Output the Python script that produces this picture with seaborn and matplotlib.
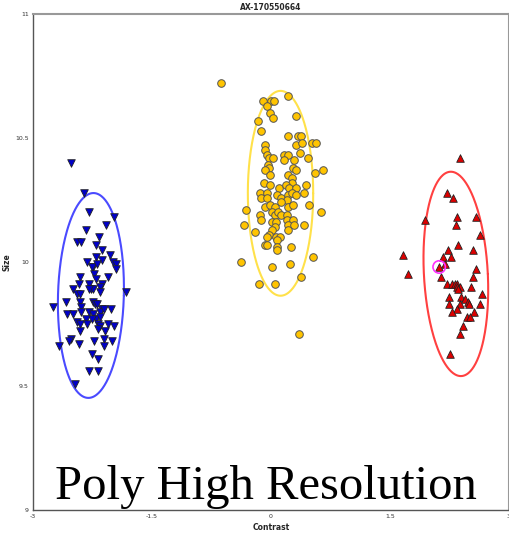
import numpy as np
import pandas as pd
import matplotlib
matplotlib.use("Agg")
import matplotlib.pyplot as plt
import seaborn as sns


# blue cluster (down triangles)
blue_x = [-2.52, -2.36, -2.29, -1.98, -2.33, -2.08, -2.44, -2.40, -2.17, -2.21,
          -2.13, -2.03, -2.20, -2.32, -2.24, -2.26, -2.13, -1.99, -1.95, -1.96,
          -2.19, -2.23, -2.41, -2.05, -2.20, -2.13, -2.16, -2.42, -2.49, -2.45,
          -2.41, -2.29, -2.27, -2.24, -2.30, -2.16, -1.83, -2.58, -2.41, -2.40,
          -2.24, -2.22, -2.19, -2.75, -2.39, -2.29, -2.13, -2.16, -2.11, -2.02,
          -2.57, -2.49, -2.24, -2.21, -2.26, -2.16, -2.45, -2.41, -2.33, -2.32,
          -2.18, -2.16, -2.06, -1.98, -2.41, -2.18, -2.09, -2.52, -2.55, -2.42,
          -2.23, -2.11, -2.00, -2.67, -2.26, -2.11, -2.18, -2.30, -2.18, -2.47]
blue_y = [10.40, 10.28, 10.20, 10.18, 10.13, 10.15, 10.08, 10.08, 10.10, 10.07,
          10.05, 10.03, 10.02, 10.00, 9.98, 9.98, 10.01, 10.00, 9.99, 9.97,
          9.99, 9.95, 9.94, 9.94, 9.93, 9.91, 9.90, 9.91, 9.89, 9.87,
          9.87, 9.91, 9.89, 9.89, 9.89, 9.88, 9.88, 9.84, 9.84, 9.82,
          9.84, 9.83, 9.83, 9.82, 9.80, 9.80, 9.81, 9.80, 9.81, 9.81,
          9.79, 9.79, 9.79, 9.77, 9.77, 9.78, 9.76, 9.75, 9.77, 9.75,
          9.75, 9.74, 9.75, 9.74, 9.72, 9.73, 9.72, 9.69, 9.68, 9.67,
          9.68, 9.69, 9.68, 9.66, 9.63, 9.66, 9.61, 9.56, 9.56, 9.51]

# yellow cluster (circles)
yellow_x = [-0.10, 0.00, 0.04, -0.05, 0.22, -0.01, -0.17, 0.03, 0.32, -0.13,
            0.22, 0.34, 0.38, 0.32, 0.39, 0.52, 0.57, -0.07, -0.08, -0.05,
            -0.03, 0.02, 0.17, 0.22, 0.16, 0.36, 0.47, 0.29, -0.04, -0.03,
            -0.08, 0.28, 0.32, -0.01, 0.56, 0.66, 0.22, 0.26, 0.27, -0.09,
            -0.01, 0.10, 0.19, 0.23, 0.32, 0.44, -0.14, -0.05, 0.07, 0.13,
            0.21, 0.26, 0.32, 0.42, -0.13, -0.05, 0.20,
            -0.31, -0.08, -0.01, 0.05, 0.13, 0.22, 0.28, 0.48, 0.63, -0.14,
            -0.12, 0.01, 0.05, 0.09, 0.13, 0.20, 0.01, 0.06, 0.05, 0.20,
            0.28, 0.22, 0.29, 0.21, -0.34, 0.41, -0.20, 0.01, -0.02, -0.05,
            0.06, 0.11, 0.07, -0.08, -0.05, 0.07, 0.08, 0.25, -0.38, 0.53,
            0.24, 0.01, 0.38, -0.15, 0.05, 0.35, -0.63]
yellow_y = [10.65, 10.65, 10.65, 10.63, 10.67, 10.60, 10.57, 10.58, 10.59, 10.53,
            10.51, 10.51, 10.51, 10.47, 10.48, 10.48, 10.48, 10.47, 10.45, 10.43,
            10.42, 10.42, 10.43, 10.43, 10.41, 10.44, 10.42, 10.41, 10.39, 10.38,
            10.37, 10.38, 10.37, 10.35, 10.36, 10.37, 10.35, 10.34, 10.32, 10.32,
            10.31, 10.30, 10.31, 10.30, 10.30, 10.31, 10.28, 10.28, 10.27, 10.26,
            10.27, 10.28, 10.27, 10.28, 10.26, 10.26, 10.25,
            10.21, 10.22, 10.23, 10.22, 10.24, 10.22, 10.23, 10.23, 10.20, 10.19,
            10.17, 10.20, 10.19, 10.20, 10.19, 10.19, 10.16, 10.16, 10.14, 10.17,
            10.17, 10.15, 10.15, 10.13, 10.15, 10.15, 10.12, 10.13, 10.11, 10.10,
            10.10, 10.10, 10.09, 10.07, 10.07, 10.06, 10.05, 10.06, 10.00, 10.02,
            9.99, 9.98, 9.94, 9.91, 9.91, 9.71, 10.72]

# red cluster (up triangles)
red_x = [2.38, 2.22, 2.30, 1.94, 2.35, 2.33, 2.59, 2.64, 1.66, 2.36,
         2.54, 2.23, 2.17, 2.27, 2.19, 2.12, 1.73, 2.14, 2.58, 2.55,
         2.22, 2.28, 2.32, 2.35, 2.38, 2.34, 2.36, 2.52, 2.24, 2.40,
         2.45, 2.48, 2.66, 2.25, 2.38, 2.34, 2.50, 2.64, 2.28, 2.56,
         2.47, 2.51, 2.42, 2.38, 2.26]
red_y = [10.42, 10.28, 10.26, 10.17, 10.18, 10.15, 10.18, 10.11, 10.03, 10.07,
         10.05, 10.05, 10.02, 10.02, 9.99, 9.98, 9.95, 9.94, 9.97, 9.94,
         9.91, 9.91, 9.91, 9.91, 9.90, 9.90, 9.89, 9.90, 9.86, 9.86,
         9.85, 9.84, 9.87, 9.83, 9.83, 9.81, 9.83, 9.83, 9.80, 9.80,
         9.78, 9.78, 9.74, 9.71, 9.63]

# highlighted sample
pick_x = [2.12]
pick_y = [9.98]

# cluster ellipses: center x, center y, half width, half height, top shift
ell_cx = [-2.27, 0.12, 2.33]
ell_cy = [9.865, 10.277, 9.952]
ell_a = [0.415, 0.412, 0.403]
ell_b = [0.413, 0.413, 0.412]
ell_shift = [0.032, 0.0, -0.063]
ell_colors = ["#4a4aff", "#ffe14a", "#ff4040"]

x_ticks = [-3, -1.5, 0, 1.5, 3]
y_ticks = [9, 9.5, 10, 10.5, 11]

sns.set_style("white")

fig = plt.figure(figsize=(5.1, 5.35), dpi=100)
ax = fig.add_axes([33 / 510, 25 / 535, 476 / 510, 496 / 535])

sns.scatterplot(x=blue_x, y=blue_y, marker="v", s=30, color="#0000c8",
                edgecolor="#222222", linewidth=0.6, ax=ax, zorder=3)
sns.scatterplot(x=yellow_x, y=yellow_y, marker="o", s=30, color="#ffc400",
                edgecolor="#555555", linewidth=0.7, ax=ax, zorder=3)
sns.scatterplot(x=red_x, y=red_y, marker="^", s=30, color="#dd0000",
                edgecolor="#222222", linewidth=0.6, ax=ax, zorder=3)
sns.scatterplot(x=pick_x, y=pick_y, marker="o", s=80, facecolor="none",
                edgecolor="#ff33ff", linewidth=1.2, ax=ax, zorder=4)

t = np.linspace(0, 2 * np.pi, 300)
for cx, cy, a, b, sh, c in zip(ell_cx, ell_cy, ell_a, ell_b, ell_shift, ell_colors):
    ax.plot(cx + a * np.cos(t) + sh * np.sin(t), cy + b * np.sin(t),
            color=c, lw=1.5, zorder=2)

ax.set_xlim(-3, 3)
ax.set_ylim(9, 11)
ax.set_xticks(x_ticks)
ax.set_xticklabels(["-3", "-1.5", "0", "1.5", "3"])
ax.set_yticks(y_ticks)
ax.set_yticklabels(["9", "9.5", "10", "10.5", "11"])
ax.tick_params(labelsize=4.5, length=0, pad=3, colors="#333333")

ax.set_title("AX-170550664", fontsize=5.5, fontweight="bold", pad=3)
ax.set_xlabel("Contrast", fontsize=5.5, fontweight="bold", labelpad=3)
ax.set_ylabel("Size", fontsize=5.5, fontweight="bold", labelpad=3)

for side in ["left", "bottom"]:
    ax.spines[side].set_color("#555555")
    ax.spines[side].set_linewidth(1.0)
for side in ["top", "right"]:
    ax.spines[side].set_color("#999999")
    ax.spines[side].set_linewidth(1.5)

ax.text(-0.06, 9.045, "Poly High Resolution", ha="center", va="baseline",
        fontsize=35, family="Liberation Serif", color="black", zorder=5)

fig.savefig("out.png", dpi=100)
